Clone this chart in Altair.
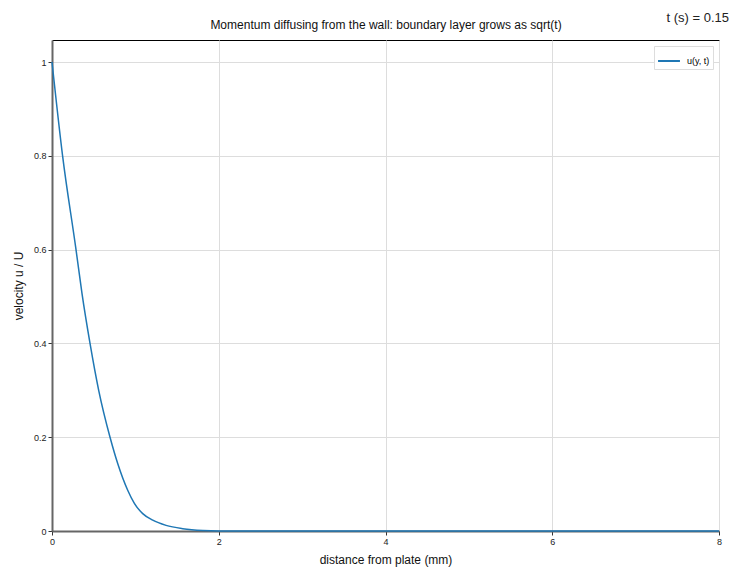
import altair as alt
import pandas as pd

# distance from plate (mm) and velocity u/U
y_mm = [0.0, 0.127, 0.288, 0.36, 0.456, 0.56, 0.696, 0.788, 0.908, 0.988, 1.088, 1.208, 1.368, 1.568, 1.81, 2.0, 3.0, 4.0, 5.0, 6.0, 7.0, 8.0]
u_vals = [1.0, 0.80, 0.60, 0.506, 0.40, 0.30, 0.20, 0.144, 0.087, 0.059, 0.037, 0.023, 0.012, 0.005, 0.001, 0.0, 0.0, 0.0, 0.0, 0.0, 0.0, 0.0]
series_name = "u(y, t)"
time_label = "t (s) = 0.15"
title_text = "Momentum diffusing from the wall: boundary layer grows as sqrt(t)"

df = pd.DataFrame({"y": y_mm, "u": u_vals, "series": [series_name] * len(y_mm)})

line = alt.Chart(df).mark_line(strokeWidth=1.5, interpolate="monotone").encode(
    x=alt.X("y:Q", title="distance from plate (mm)",
            scale=alt.Scale(domain=[0, 8], nice=False),
            axis=alt.Axis(values=[0, 2, 4, 6, 8], format="~g", labelFlush=False)),
    y=alt.Y("u:Q", title="velocity u / U",
            scale=alt.Scale(domain=[0, 1.047], nice=False),
            axis=alt.Axis(values=[0, 0.2, 0.4, 0.6, 0.8, 1], format="~g", labelFlush=False)),
    color=alt.Color("series:N", scale=alt.Scale(range=["#1f77b4"]),
                    legend=alt.Legend(title=None, orient="top-right", offset=6,
                                      symbolType="stroke", symbolStrokeWidth=2,
                                      symbolSize=480, labelFontSize=9, labelOffset=6,
                                      strokeColor="#dddddd", fillColor="white",
                                      padding=3, cornerRadius=0)),
)

ann = alt.Chart(pd.DataFrame({"t": [time_label]})).mark_text(
    align="right", baseline="alphabetic", fontSize=13, color="#222"
).encode(text="t:N", x=alt.value(677), y=alt.value(-18))

ttl = alt.Chart(pd.DataFrame({"t": [title_text]})).mark_text(
    align="center", baseline="alphabetic", fontSize=12, color="#111"
).encode(text="t:N", x=alt.value(334), y=alt.value(-11))

chart = alt.layer(line, ann, ttl).properties(
    width=667, height=491,
    autosize=alt.AutoSizeParams(type="none"),
    padding={"left": 44, "top": 32, "right": 10, "bottom": 40},
).configure(font="Liberation Sans").configure_view(
    stroke="black", strokeWidth=1
).configure_axis(
    domainColor="#666", domainWidth=2, gridColor="#dddddd", gridWidth=1,
    tickColor="#333", tickSize=4, labelFontSize=9, labelColor="#222",
    titleFontSize=12, titleFontWeight="normal", titleColor="#111",
).configure_axisY(titlePadding=8).configure_axisX(titlePadding=8)

chart.save("out.html", embed_options={"renderer": "svg", "actions": False})
